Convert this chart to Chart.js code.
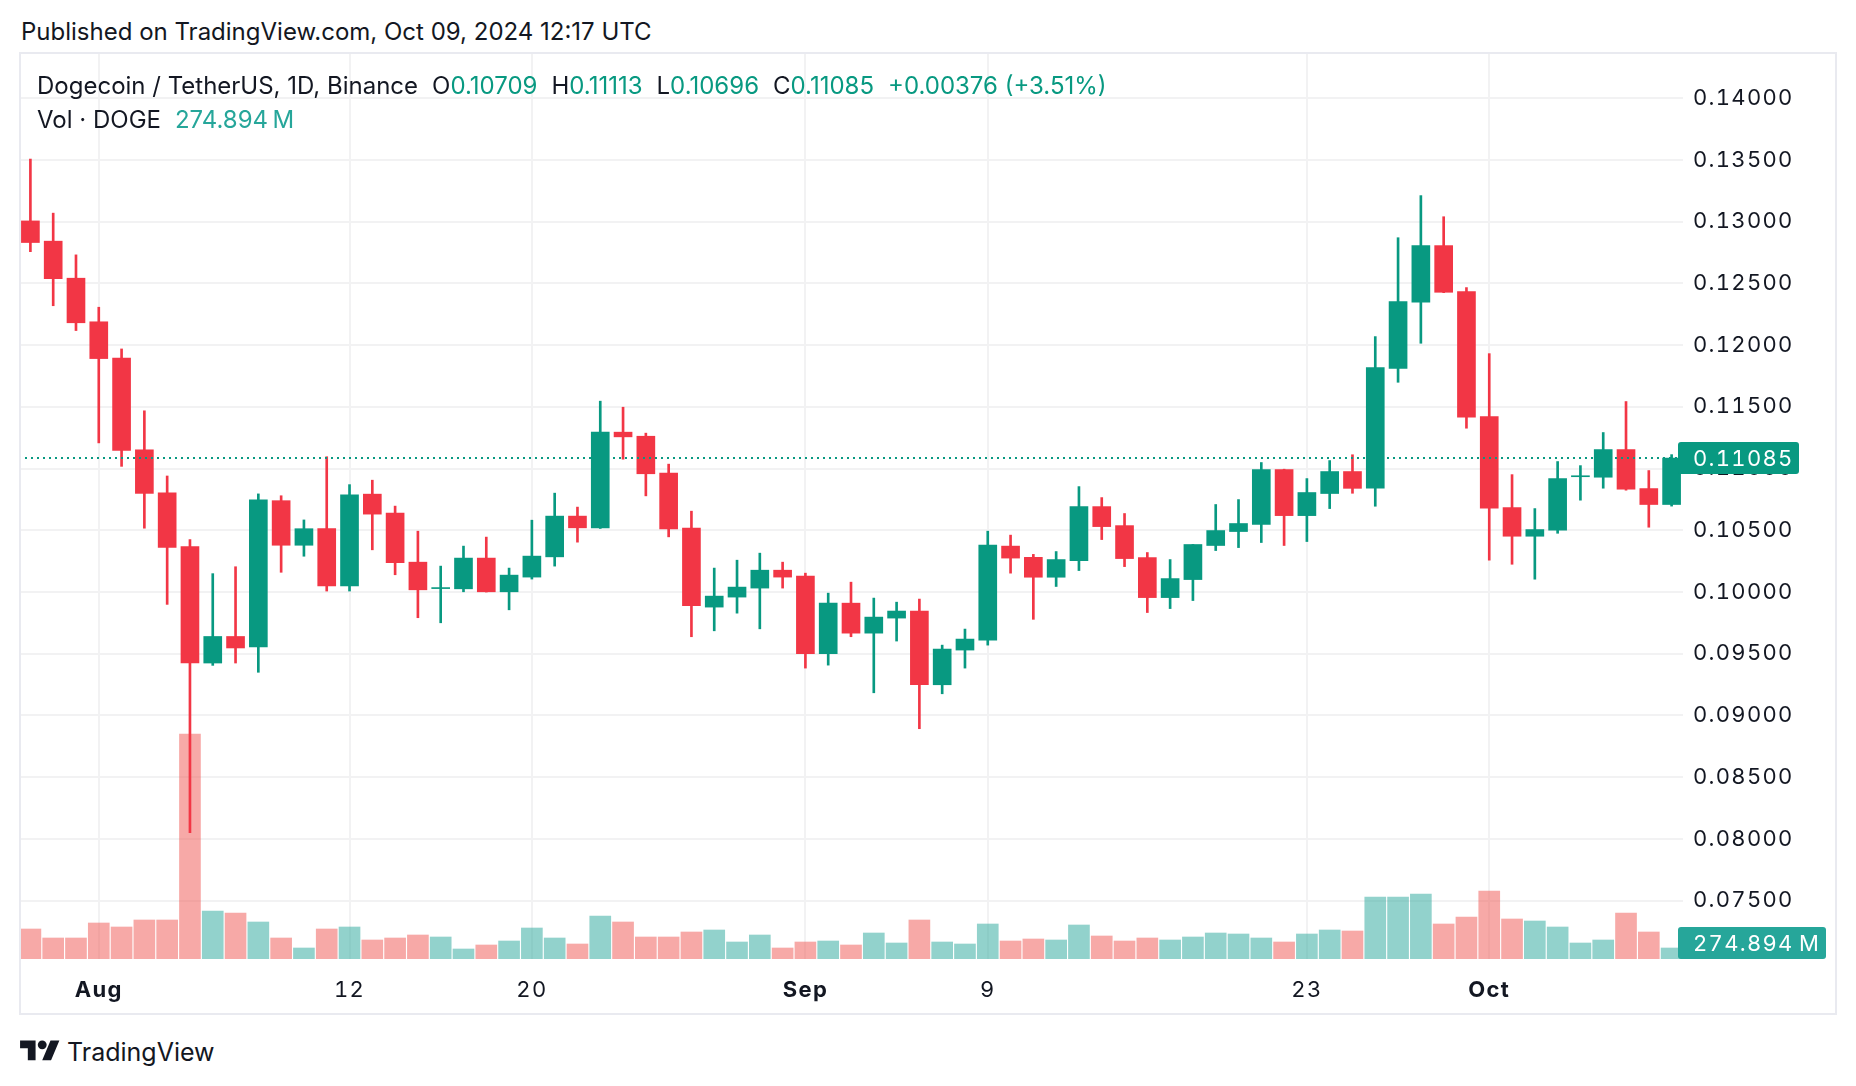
<!DOCTYPE html>
<html>
<head>
<meta charset="utf-8">
<script src="https://cdn.jsdelivr.net/npm/chart.js@4.4.1/dist/chart.umd.min.js"></script>
<style>
  body { margin: 0; background: #fff; width: 1856px; height: 1086px; position: relative; overflow: hidden;
         font-family: Inter, 'Noto Sans', sans-serif; color: #131722; }
  #pub { position: absolute; left: 21px; top: 16px; font-size: 24px; line-height: 32px; }
  #frame { position: absolute; left: 19px; top: 52px; width: 1818px; height: 963px; border: 2px solid #E9EAF0;
           box-sizing: border-box; pointer-events: none; z-index: 2; }
  #chart { position: absolute; left: 19px; top: 53px; font-feature-settings: 'tnum'; }
  .legend { position: absolute; left: 37px; font-size: 24px; line-height: 32px; display: flex; gap: 14px;
            white-space: nowrap; z-index: 3; }
  .up { color: #089981; }
  .vol { color: #26A69A; }
  #logo { position: absolute; left: 20px; top: 1036px; }
  #brand { position: absolute; left: 67px; top: 1036px; font-size: 25px; line-height: 32px; }
</style>
</head>
<body>
<div id="pub">Published on TradingView.com, Oct 09, 2024 12:17 UTC</div>
<div class="legend" id="row1" style="top:70px"></div>
<div class="legend" id="row2" style="top:104px"></div>
<canvas id="chart" width="1817" height="961"></canvas>
<div id="frame"></div>
<svg id="logo" width="40" height="31" viewBox="0 0 36 28"><path fill="#131722" d="M14 22H7V11H0V4h14v18zM28 22h-8l7.5-18h8L28 22z"/><circle fill="#131722" cx="20" cy="8" r="4"/></svg>
<div id="brand">TradingView</div>
<script>
const dates = [
  'Jul 29','Jul 30','Jul 31',
  'Aug 1','Aug 2','Aug 3','Aug 4','Aug 5','Aug 6','Aug 7','Aug 8','Aug 9','Aug 10',
  'Aug 11','Aug 12','Aug 13','Aug 14','Aug 15','Aug 16','Aug 17','Aug 18','Aug 19','Aug 20',
  'Aug 21','Aug 22','Aug 23','Aug 24','Aug 25','Aug 26','Aug 27','Aug 28','Aug 29','Aug 30','Aug 31',
  'Sep 1','Sep 2','Sep 3','Sep 4','Sep 5','Sep 6','Sep 7','Sep 8','Sep 9','Sep 10',
  'Sep 11','Sep 12','Sep 13','Sep 14','Sep 15','Sep 16','Sep 17','Sep 18','Sep 19','Sep 20',
  'Sep 21','Sep 22','Sep 23','Sep 24','Sep 25','Sep 26','Sep 27','Sep 28','Sep 29','Sep 30',
  'Oct 1','Oct 2','Oct 3','Oct 4','Oct 5','Oct 6','Oct 7','Oct 8','Oct 9'
];

const open = [
  0.13006, 0.12842, 0.12542, 0.12189, 0.11895, 0.11152, 0.10803, 0.10368, 0.09425, 0.09640,
  0.09555, 0.10740, 0.10379, 0.10513, 0.10049, 0.10793, 0.10639, 0.10242, 0.10028, 0.10026,
  0.10275, 0.10002, 0.10121, 0.10285, 0.10615, 0.10520, 0.11295, 0.11262, 0.10963, 0.10518,
  0.09878, 0.09959, 0.10032, 0.10177, 0.10129, 0.09500, 0.09910, 0.09667, 0.09789, 0.09846,
  0.09249, 0.09530, 0.09611, 0.10372, 0.10281, 0.10120, 0.10255, 0.10692, 0.10538, 0.10279,
  0.09955, 0.10101, 0.10377, 0.10490, 0.10547, 0.10992, 0.10619, 0.10798, 0.10976, 0.10841,
  0.11812, 0.12347, 0.12806, 0.12433, 0.11421, 0.10684, 0.10452, 0.10501, 0.10934, 0.10930,
  0.11154, 0.10838, 0.10709
];
const high = [
  0.13507, 0.13069, 0.12731, 0.12307, 0.11969, 0.11468, 0.10940, 0.10424, 0.10149, 0.10205,
  0.10795, 0.10780, 0.10584, 0.11096, 0.10870, 0.10906, 0.10696, 0.10493, 0.10210, 0.10372,
  0.10445, 0.10194, 0.10582, 0.10801, 0.10688, 0.11546, 0.11497, 0.11287, 0.11036, 0.10655,
  0.10194, 0.10258, 0.10315, 0.10242, 0.10153, 0.09991, 0.10080, 0.09951, 0.09918, 0.09943,
  0.09570, 0.09700, 0.10493, 0.10461, 0.10305, 0.10328, 0.10854, 0.10765, 0.10636, 0.10320,
  0.10263, 0.10385, 0.10709, 0.10749, 0.11049, 0.10995, 0.10919, 0.11065, 0.11112, 0.12069,
  0.12870, 0.13211, 0.13040, 0.12466, 0.11931, 0.10951, 0.10676, 0.11057, 0.11024, 0.11292,
  0.11543, 0.10984, 0.11113
];
const low = [
  0.12757, 0.12319, 0.12118, 0.11208, 0.11018, 0.10517, 0.09900, 0.08050, 0.09406, 0.09425,
  0.09350, 0.10160, 0.10290, 0.10008, 0.10008, 0.10342, 0.10140, 0.09792, 0.09751, 0.10002,
  0.10000, 0.09856, 0.10105, 0.10210, 0.10404, 0.10515, 0.11076, 0.10779, 0.10447, 0.09638,
  0.09686, 0.09829, 0.09702, 0.10032, 0.09384, 0.09408, 0.09638, 0.09184, 0.09603, 0.08893,
  0.09176, 0.09384, 0.09570, 0.10153, 0.09779, 0.10045, 0.10174, 0.10425, 0.10206, 0.09834,
  0.09866, 0.09931, 0.10336, 0.10360, 0.10401, 0.10377, 0.10409, 0.10676, 0.10800, 0.10695,
  0.11699, 0.12015, 0.12425, 0.11327, 0.10258, 0.10225, 0.10104, 0.10476, 0.10744, 0.10841,
  0.10825, 0.10525, 0.10696
];
const close = [
  0.12831, 0.12538, 0.12181, 0.11891, 0.11148, 0.10799, 0.10361, 0.09425, 0.09640, 0.09547,
  0.10747, 0.10379, 0.10513, 0.10049, 0.10788, 0.10631, 0.10237, 0.10018, 0.10036, 0.10275,
  0.10002, 0.10137, 0.10291, 0.10615, 0.10520, 0.11295, 0.11257, 0.10958, 0.10512, 0.09889,
  0.09967, 0.10040, 0.10177, 0.10121, 0.09500, 0.09910, 0.09667, 0.09797, 0.09846, 0.09249,
  0.09538, 0.09619, 0.10380, 0.10275, 0.10120, 0.10263, 0.10692, 0.10530, 0.10271, 0.09955,
  0.10109, 0.10385, 0.10498, 0.10555, 0.10992, 0.10619, 0.10806, 0.10976, 0.10840, 0.11818,
  0.12352, 0.12806, 0.12428, 0.11416, 0.10679, 0.10452, 0.10506, 0.10919, 0.10942, 0.11154,
  0.10833, 0.10709, 0.11085
];
// volume in millions of DOGE
const volume = [
  750, 525, 525, 900, 800, 975, 975, 5625, 1200, 1150,
  925, 525, 275, 750, 800, 475, 525, 600, 550, 250,
  350, 450, 775, 525, 375, 1075, 925, 550, 550, 675,
  725, 425, 600, 275, 425, 450, 350, 650, 400, 975,
  425, 375, 875, 450, 500, 475, 850, 575, 450, 525,
  475, 550, 650, 625, 525, 425, 625, 725, 700, 1550,
  1550, 1625, 875, 1050, 1700, 1000, 950, 800, 400, 475,
  1150, 675, 274.894
];

const priceTicks = [0.075, 0.080, 0.085, 0.090, 0.095, 0.100, 0.105, 0.110, 0.115, 0.120, 0.125, 0.130, 0.135, 0.140];
const xTickDates = ['Aug 1', 'Aug 12', 'Aug 20', 'Sep 1', 'Sep 9', 'Sep 23', 'Oct 1'];
const xTickText = ['Aug', '12', '20', 'Sep', '9', '23', 'Oct'];
const monthTicks = ['Aug', 'Sep', 'Oct'];

const UP = '#089981', DOWN = '#F23645';
const UP_VOL = 'rgba(38,166,154,0.5)', DOWN_VOL = 'rgba(239,83,80,0.5)';
const TEXT = '#131722', GRID = '#F2F2F3';
const AXIS_FONT = { family: 'Inter', size: 22 };

const isUp = close.map((c, i) => c >= open[i]);
const last = close.length - 1;

// legend rows
const chg = close[last] - close[last - 1];
const pct = chg / close[last - 1] * 100;
const sign = chg >= 0 ? '+' : '-';
document.getElementById('row1').innerHTML =
  '<span>Dogecoin / TetherUS, 1D, Binance</span>' +
  '<span>O<span class="up">' + open[last].toFixed(5) + '</span></span>' +
  '<span>H<span class="up">' + high[last].toFixed(5) + '</span></span>' +
  '<span>L<span class="up">' + low[last].toFixed(5) + '</span></span>' +
  '<span>C<span class="up">' + close[last].toFixed(5) + '</span></span>' +
  '<span class="up">' + sign + Math.abs(chg).toFixed(5) + ' (' + sign + Math.abs(pct).toFixed(2) + '%)</span>';
document.getElementById('row2').innerHTML =
  '<span>Vol · DOGE</span><span class="vol">' + volume[last].toFixed(3) + '\u202FM</span>';

function roundRect(ctx, x, y, w, h, r) {
  ctx.beginPath();
  ctx.moveTo(x + r, y);
  ctx.arcTo(x + w, y, x + w, y + h, r);
  ctx.arcTo(x + w, y + h, x, y + h, r);
  ctx.arcTo(x, y + h, x, y, r);
  ctx.arcTo(x, y, x + w, y, r);
  ctx.closePath();
}

const lastValueTags = {
  id: 'lastValueTags',
  beforeDraw(chart) {
    chart.ctx.letterSpacing = '1.3px';
  },
  afterDatasetsDraw(chart) {
    const { ctx, chartArea, scales } = chart;
    const y = Math.round(scales.y.getPixelForValue(close[last]));
    ctx.save();
    ctx.strokeStyle = UP;
    ctx.lineWidth = 2;
    ctx.setLineDash([2, 4]);
    ctx.beginPath();
    ctx.moveTo(chartArea.left, y);
    ctx.lineTo(chartArea.right, y);
    ctx.stroke();
    ctx.restore();
  },
  afterDraw(chart) {
    const { ctx, chartArea, scales } = chart;
    const x0 = chartArea.right - 5;
    ctx.save();
    ctx.font = '22px Inter';
    ctx.textBaseline = 'middle';
    ctx.textAlign = 'left';
    // price tag
    const py = scales.y.getPixelForValue(close[last]);
    ctx.fillStyle = isUp[last] ? UP : DOWN;
    roundRect(ctx, x0, py - 16, 121, 32, 3);
    ctx.fill();
    ctx.fillStyle = '#fff';
    ctx.fillText(close[last].toFixed(5), chartArea.right + 10, py + 1);
    // volume tag
    let vy = scales.yv.getPixelForValue(volume[last]);
    vy = Math.min(vy, chartArea.bottom - 16);
    ctx.fillStyle = isUp[last] ? '#26A69A' : '#EF5350';
    roundRect(ctx, x0, vy - 16, 148, 32, 3);
    ctx.fill();
    ctx.fillStyle = '#fff';
    ctx.fillText(volume[last].toFixed(3) + '\u202FM', chartArea.right + 10, vy + 1);
    ctx.restore();
  }
};

new Chart(document.getElementById('chart'), {
  type: 'bar',
  data: {
    labels: dates,
    datasets: [
      {
        label: 'body',
        data: open.map((o, i) => [o, close[i] === o ? o + 0.00005 : close[i]]),
        backgroundColor: isUp.map(u => u ? UP : DOWN),
        barThickness: 18,
        grouped: false,
        order: 1
      },
      {
        label: 'wick',
        data: low.map((l, i) => [l, high[i]]),
        backgroundColor: isUp.map(u => u ? UP : DOWN),
        barThickness: 2,
        grouped: false,
        order: 2
      },
      {
        label: 'volume',
        data: volume,
        yAxisID: 'yv',
        backgroundColor: isUp.map(u => u ? UP_VOL : DOWN_VOL),
        barThickness: 21,
        grouped: false,
        order: 3
      }
    ]
  },
  options: {
    responsive: false,
    animation: false,
    layout: { padding: 0 },
    plugins: { legend: { display: false }, tooltip: { enabled: false } },
    scales: {
      x: {
        offset: true,
        grid: { offset: false, color: GRID, lineWidth: 2, drawTicks: false },
        border: { display: false },
        ticks: {
          autoSkip: false,
          maxRotation: 0,
          padding: 18,
          color: TEXT,
          font: (c) => ({ family: 'Inter', size: 22,
            weight: c.tick && monthTicks.includes(c.tick.label) ? 'bold' : 'normal' }),
          callback: (v) => xTickText[xTickDates.indexOf(dates[v])]
        },
        afterBuildTicks: (s) => { s.ticks = xTickDates.map(d => ({ value: dates.indexOf(d) })); },
        afterFit: (s) => { s.height = 55; s.paddingLeft = 0; s.paddingRight = 0; }
      },
      y: {
        position: 'right',
        min: 0.070277,
        max: 0.143661,
        grid: { color: GRID, lineWidth: 2, drawTicks: false },
        border: { display: false },
        ticks: { padding: 10, color: TEXT, font: AXIS_FONT, callback: (v) => v.toFixed(5) },
        afterBuildTicks: (s) => { s.ticks = priceTicks.map(v => ({ value: v })); },
        afterFit: (s) => { s.width = 153; s.paddingTop = 0; s.paddingBottom = 0; }
      },
      yv: { display: false, min: 0, max: 22650 }
    }
  },
  plugins: [lastValueTags]
});
</script>
</body>
</html>
